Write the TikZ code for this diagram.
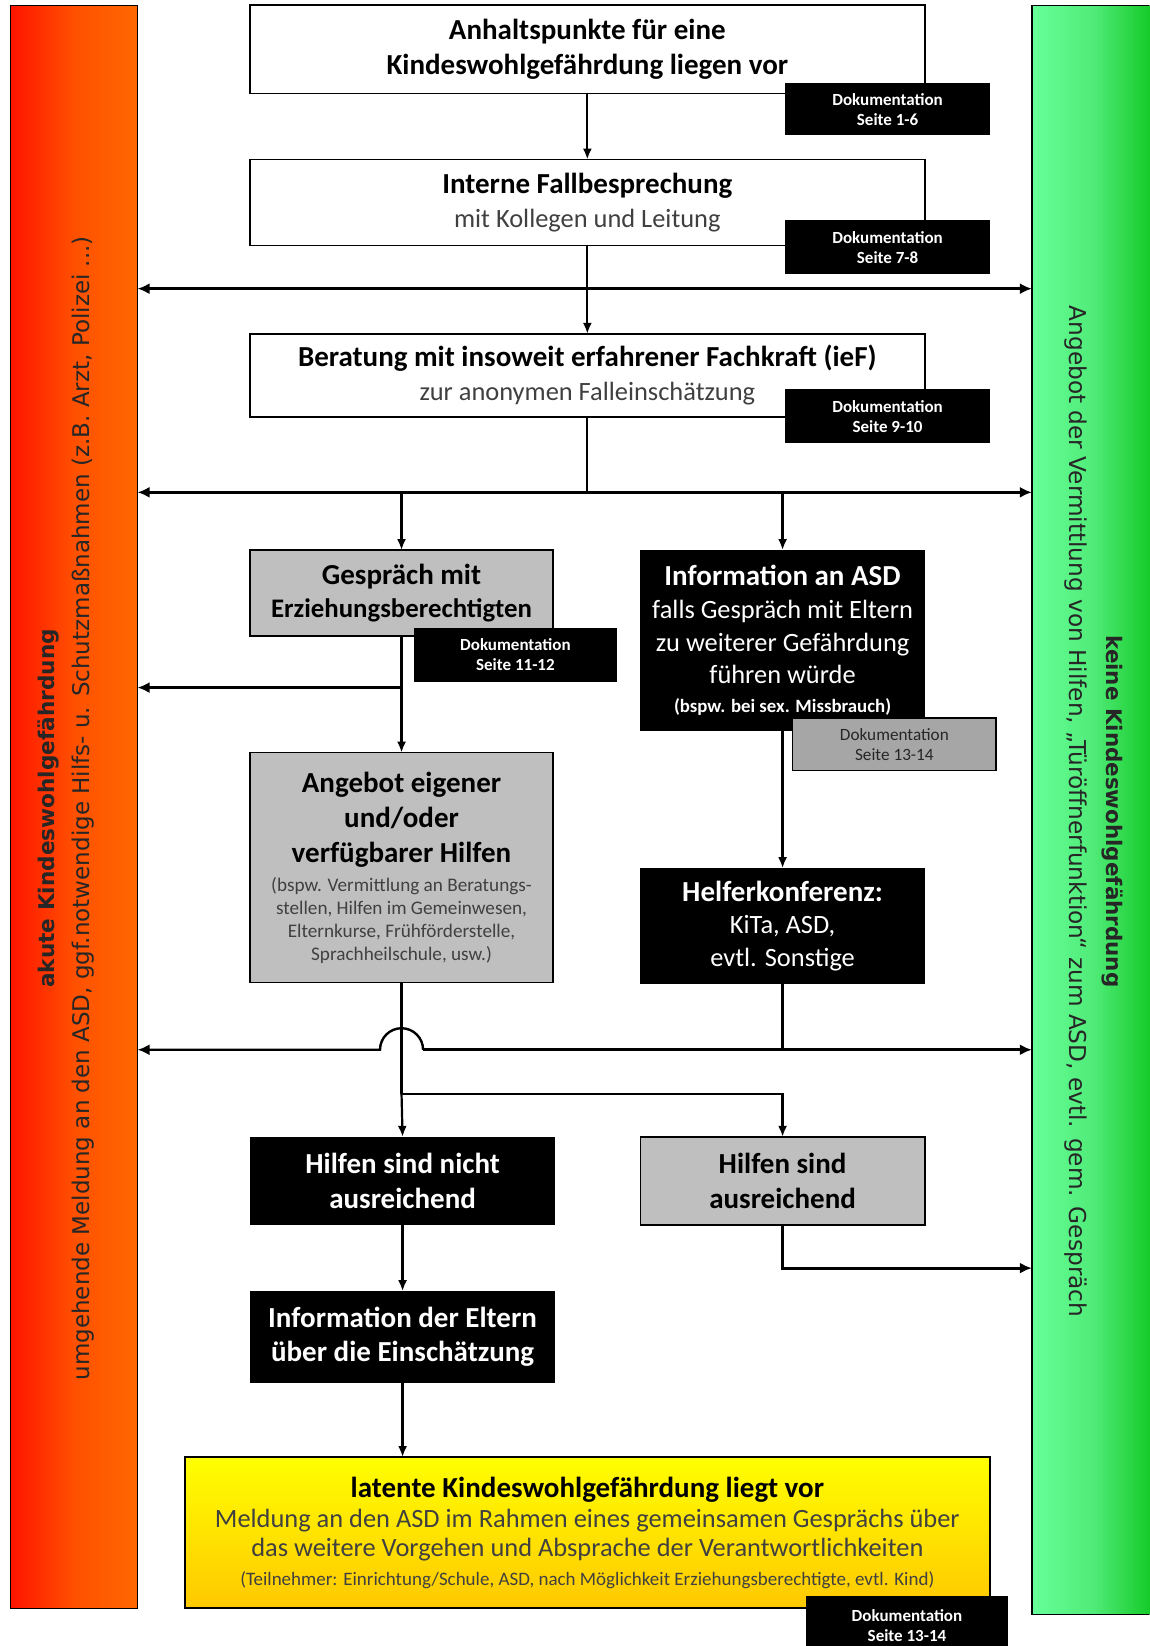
\documentclass[tikz,border=0pt]{standalone}
\usepackage{fontspec}
\setmainfont{Carlito}
\newfontfamily\sidefont{DejaVu Sans}
\usetikzlibrary{arrows.meta,calc}
\definecolor{boxgray}{RGB}{191,191,191}
\definecolor{docgray}{RGB}{166,166,166}
\definecolor{subgray}{RGB}{64,64,64}
\definecolor{barred}{RGB}{255,20,0}
\definecolor{barmid}{RGB}{255,80,0}
\definecolor{barorange}{RGB}{255,104,0}
\definecolor{lightgreen}{RGB}{102,255,153}
\definecolor{midgreen}{RGB}{80,235,120}
\definecolor{darkgreen}{RGB}{17,200,34}
\definecolor{ltyellow}{RGB}{255,255,0}
\definecolor{dkyellow}{RGB}{255,200,0}
\newcommand\hdfont{\fontsize{14.5}{17.8}\selectfont\bfseries}
\tikzset{
 every node/.style={inner sep=0pt, outer sep=0pt},
 whitebox/.style={draw=black, line width=0.8pt, fill=white, align=center},
 graybox/.style={draw=black, line width=0.8pt, fill=boxgray, align=center},
 blackbox/.style={fill=black, text=white, align=center},
 docbox/.style={fill=black, text=white, align=center, font=\fontsize{8.5}{10}\selectfont\bfseries},
 docgraybox/.style={draw=black, line width=0.8pt, fill=docgray, text=black!85, align=center, font=\fontsize{8.6}{10}\selectfont},
 conn/.style={line width=1.1pt, -{Latex[length=5.5pt,width=4.5pt]}},
 plainline/.style={line width=1.1pt},
 busarr/.style={line width=1.6pt, {Latex[length=6pt,width=5.5pt]}-{Latex[length=6pt,width=5.5pt]}},
 busleft/.style={line width=1.6pt, {Latex[length=6pt,width=5.5pt]}-},
 busright/.style={line width=1.6pt, -{Latex[length=6pt,width=5.5pt]}},
}
\newcommand\place[7]{\node[#2, minimum width={(#5-#3)*0.52465pt}, minimum height={(#6-#4)*0.52465pt}] (#1) at ({(#3+#5)/2},{(#4+#6)/2}) {#7};}
\begin{document}
\begin{tikzpicture}[x=0.52465pt, y=-0.52465pt]
\clip (0,0) rectangle (1095,1568);
\fill[white] (0,0) rectangle (1095,1568);

% side bars
\place{L}{draw=black, line width=0.6pt, left color=barred, right color=barorange, middle color=barmid}{10}{5}{131}{1532}{}
\place{R}{draw=black, line width=0.6pt, left color=lightgreen, right color=darkgreen, middle color=midgreen}{983}{5}{1100}{1538}{}
\node[rotate=90, align=center, font=\sidefont\fontsize{11.5}{17.3}\selectfont, text=black!85] (Ltxt) at (63,770)
 {{\bfseries\fontsize{10.8}{17.3}\selectfont akute Kindeswohlgefährdung}\\umgehende Meldung an den ASD, ggf.notwendige Hilfs- u. Schutzmaßnahmen (z.B. Arzt, Polizei ...)};
\node[rotate=-90, align=center, font=\sidefont\fontsize{11.6}{18.4}\selectfont, text=black!85] (Rtxt) at (1042,773)
 {{\bfseries\fontsize{10.7}{18.4}\selectfont keine Kindeswohlgefährdung}\\Angebot der Vermittlung von Hilfen, „Türöffnerfunktion“ zum ASD, evtl. gem. Gespräch};

% main boxes
\place{b1}{whitebox, font=\hdfont}{238}{5}{881}{89}{Anhaltspunkte für eine\\Kindeswohlgefährdung liegen vor}
\place{b2}{whitebox, font=\fontsize{13.2}{16.8}\selectfont}{238}{152}{881}{234}{{\hdfont Interne Fallbesprechung}\\\textcolor{subgray}{mit Kollegen und Leitung}}
\place{b3}{whitebox, font=\fontsize{13.2}{16.8}\selectfont}{238}{318}{881}{397}{{\hdfont Beratung mit insoweit erfahrener Fachkraft (ieF)}\\\textcolor{subgray}{zur anonymen Falleinschätzung}}
\place{gs}{graybox, font=\fontsize{14.5}{16.8}\selectfont\bfseries}{238}{524}{527}{606}{Gespräch mit\\{\fontsize{13.4}{16.8}\selectfont Erziehungsberechtigten}}
\place{ang}{graybox, font=\fontsize{14.5}{17.6}\selectfont\bfseries}{238}{717}{527}{936}{Angebot eigener\\und/oder\\verfügbarer Hilfen\\[-3.4pt]
 {\mdseries\fontsize{9.6}{10}\selectfont\color{subgray}(bspw. Vermittlung an Beratungs-}\\[-6.1pt]
 {\mdseries\fontsize{9.6}{10}\selectfont\color{subgray}stellen, Hilfen im Gemeinwesen,}\\[-6.1pt]
 {\mdseries\fontsize{9.6}{10}\selectfont\color{subgray}Elternkurse, Frühförderstelle,}\\[-6.1pt]
 {\mdseries\fontsize{9.6}{10}\selectfont\color{subgray}Sprachheilschule, usw.)}}
\place{ia}{blackbox, font=\fontsize{13.2}{16.3}\selectfont}{610}{524}{881}{696}{{\hdfont Information an ASD}\\falls Gespräch mit Eltern\\zu weiterer Gefährdung\\führen würde\\[-2.1pt]{\fontsize{9.4}{10}\selectfont\bfseries (bspw. bei sex. Missbrauch)}}
\place{hk}{blackbox, font=\fontsize{13.2}{16.3}\selectfont}{610}{827}{881}{937}{{\hdfont Helferkonferenz:}\\KiTa, ASD,\\evtl. Sonstige}
\place{hn}{blackbox, font=\fontsize{14.5}{17.3}\selectfont\bfseries}{238}{1083}{529}{1167}{Hilfen sind nicht\\ausreichend}
\place{ha}{graybox, font=\fontsize{14.5}{17.3}\selectfont\bfseries}{610}{1083}{881}{1167}{Hilfen sind\\ausreichend}
\place{ie}{blackbox, font=\fontsize{14.5}{17.3}\selectfont\bfseries}{238}{1230}{529}{1317}{Information der Eltern\\über die Einschätzung}
\place{lat}{draw=black, line width=0.8pt, top color=ltyellow, bottom color=dkyellow, align=center, font=\fontsize{13.2}{16.8}\selectfont}{176}{1388}{943}{1532}
 {{\hdfont latente Kindeswohlgefährdung liegt vor}\\[-1.6pt]
 \textcolor{subgray}{Meldung an den ASD im Rahmen eines gemeinsamen Gesprächs über}\\[-2.4pt]
 \textcolor{subgray}{das weitere Vorgehen und Absprache der Verantwortlichkeiten}\\[-2.6pt]
 {\fontsize{9.5}{10}\selectfont\color{subgray}(Teilnehmer: Einrichtung/Schule, ASD, nach Möglichkeit Erziehungsberechtigte, evtl. Kind)}}

% bus coordinates
\coordinate (h1) at (0,275);
\coordinate (h2) at (0,469);
\coordinate (h3) at (0,655);
\coordinate (h4) at (0,1000);
\coordinate (h5) at (0,1042);
\coordinate (h6) at (0,1208);

% connectors
\draw[conn] (b1) -- (b2);
\draw[conn] (b2) -- (b3);
\draw[busarr] (L.east |- h1) -- (R.west |- h1);
\draw[plainline] (b3.south) -- (b3.south |- h2);
\draw[busarr] (L.east |- h2) -- (R.west |- h2);
\draw[conn] (gs.north |- h2) -- (gs.north);
\draw[conn] (ia.north |- h2) -- (ia.north);
\draw[conn] (gs) -- (ang);
\draw[busleft] (L.east |- h3) -- (gs.south |- h3);
\draw[conn] (ia) -- (hk);
\draw[plainline] (hk.south) -- (hk.south |- h4);
\coordinate (hopL) at ($(ang.south |- h4)+(-20.5,0)$);
\draw[busleft, line width=1.2pt] (L.east |- h4) -- (hopL) arc[start angle=180, end angle=0, radius=10.76pt] coordinate (hopR);
\draw[busright] (hopR) -- (R.west |- h4);
\draw[plainline] (ang.south) -- (ang.south |- h5);
\draw[conn] (ang.south |- h5) -- (hn.north);
\draw[conn] (ang.south |- h5) -| (ha.north);
\draw[conn] (hn) -- (ie);
\draw[conn] (ie.south) -- (ie.south |- lat.north);
\draw[busright] (ha.south) |- (R.west |- h6);

% documentation tags
\place{d1}{docbox}{748}{79}{943}{129}{Dokumentation\\Seite 1-6}
\place{d2}{docbox}{748}{210}{943}{261}{Dokumentation\\Seite 7-8}
\place{d3}{docbox}{748}{371}{943}{422}{Dokumentation\\Seite 9-10}
\place{d4}{docbox}{394}{598}{588}{650}{Dokumentation\\Seite 11-12}
\place{d5}{docgraybox}{755}{684}{949}{734}{Dokumentation\\Seite 13-14}
\place{d6}{docbox}{768}{1520}{960}{1578}{Dokumentation\\Seite 13-14}
\end{tikzpicture}
\end{document}
